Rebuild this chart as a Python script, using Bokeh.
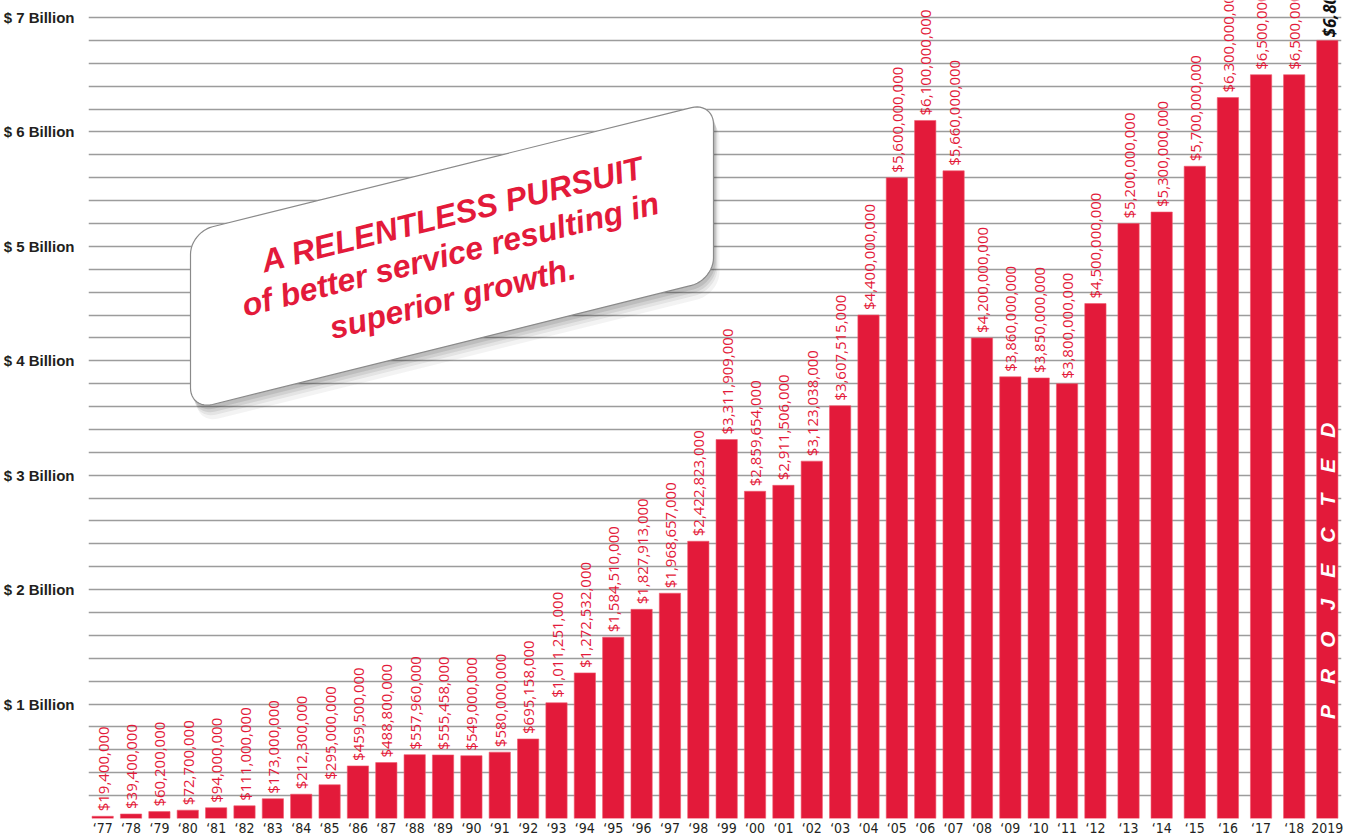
import math
from bokeh.plotting import figure
from bokeh.models import ColumnDataSource, FixedTicker, Label, FactorRange
from bokeh.core.properties import value
from bokeh.embed import file_html
from bokeh.resources import INLINE

# ---------------- data ----------------
years = ["‘77", "‘78", "‘79", "‘80", "‘81", "‘82", "‘83", "‘84", "‘85", "‘86",
         "‘87", "‘88", "‘89", "‘90", "‘91", "‘92", "‘93", "‘94", "‘95", "‘96",
         "‘97", "‘98", "‘99", "‘00", "‘01", "‘02", "‘03", "‘04", "‘05", "‘06",
         "‘07", "‘08", "‘09", "‘10", "‘11", "‘12", "‘13", "‘14", "‘15", "‘16",
         "‘17", "‘18", "2019"]
revenue = [19400000, 39400000, 60200000, 72700000, 94000000, 111000000,
           173000000, 212300000, 295000000, 459500000, 488800000, 557960000,
           555458000, 549000000, 580000000, 695158000, 1011251000, 1272532000,
           1584510000, 1827913000, 1968657000, 2422823000, 3311909000,
           2859654000, 2911506000, 3123038000, 3607515000, 4400000000,
           5600000000, 6100000000, 5660000000, 4200000000, 3860000000,
           3850000000, 3800000000, 4500000000, 5200000000, 5300000000,
           5700000000, 6300000000, 6500000000, 6500000000, 6800000000]
projected = [False] * 42 + [True]
y_tick_values = [1, 2, 3, 4, 5, 6, 7]
y_tick_labels = ["$ 1 Billion", "$ 2 Billion", "$ 3 Billion", "$ 4 Billion",
                 "$ 5 Billion", "$ 6 Billion", "$ 7 Billion"]
callout_lines = ["A RELENTLESS PURSUIT", "of better service resulting in", "superior growth."]
projected_word = "PROJECTED"

# ---------------- layout constants ----------------
W, H = 1351, 838
LEFT, RIGHT, BOTTOM = 88, 10, 19
FRAME_W = W - LEFT - RIGHT
FRAME_H = H - BOTTOM
N_TIGHT = 36          # bars drawn in the tightly packed block ('77 - '12)
GROUP_PAD = 0.168     # the later bars are spaced a little wider
SY = 114.57
YTOP = FRAME_H / SY

RED = "#e31a3a"

idx = list(range(len(years)))
groups = ["base" if i < N_TIGHT else "s%d" % i for i in idx]
factors = list(zip(groups, years))
vals_b = [v / 1e9 for v in revenue]
labels = ["$" + format(v, ",") for v in revenue]

x_range = FactorRange(factors=factors, factor_padding=0, group_padding=GROUP_PAD,
                      range_padding=0)
n_single = len(years) - N_TIGHT
SYN_LEN = N_TIGHT + n_single * (1 + GROUP_PAD)
SX = FRAME_W / SYN_LEN

hist_i = [i for i in idx if not projected[i]]
proj_i = [i for i in idx if projected[i]]
src = ColumnDataSource(dict(x=factors, top=vals_b))
src_lab = ColumnDataSource(dict(x=[factors[i] for i in hist_i],
                                y=[vals_b[i] for i in hist_i],
                                t=[labels[i] for i in hist_i]))
src_proj = ColumnDataSource(dict(x=[factors[i] for i in proj_i],
                                 y=[vals_b[i] for i in proj_i],
                                 t=[labels[i] for i in proj_i]))
src_word = ColumnDataSource(dict(x=[factors[i] for i in proj_i],
                                 t=["\u2003".join(projected_word)] * len(proj_i)))

p = figure(width=W, height=H, x_range=x_range, y_range=(0, YTOP),
           output_backend="svg", toolbar_location=None,
           min_border_left=LEFT, min_border_right=RIGHT, min_border_top=0,
           min_border_bottom=BOTTOM)
p.outline_line_color = None
p.background_fill_color = "white"
p.border_fill_color = "white"

# grid
p.xgrid.grid_line_color = None
p.ygrid.ticker = FixedTicker(ticks=[round(0.2 * k, 1) for k in range(1, 36)])
p.ygrid.grid_line_color = "#9c9c9c"
p.ygrid.grid_line_width = 1.6

# axes
p.yaxis.ticker = FixedTicker(ticks=y_tick_values)
p.yaxis.major_label_overrides = {t: l for t, l in zip(y_tick_values, y_tick_labels)}
p.yaxis.axis_line_color = None
p.yaxis.major_tick_line_color = None
p.yaxis.minor_tick_line_color = None
p.yaxis.major_label_standoff = 8
p.yaxis.major_label_text_font = "Liberation Sans"
p.yaxis.major_label_text_font_style = "bold"
p.yaxis.major_label_text_font_size = "15px"
p.yaxis.major_label_text_color = "#231f20"

p.xaxis.axis_line_color = None
p.xaxis.major_tick_line_color = None
p.xaxis.minor_tick_line_color = None
p.xaxis.major_tick_out = 0
p.xaxis.major_tick_in = 0
p.xaxis.major_label_standoff = 1
p.xaxis.major_label_orientation = "horizontal"
p.xaxis.major_label_text_font = "'Liberation Sans Narrow', 'DejaVu Sans Condensed', sans-serif"
p.xaxis.major_label_text_font_size = "14px"
p.xaxis.major_label_text_color = "#231f20"
p.xaxis.group_text_font_size = "0px"
p.xaxis.group_text_color = None
p.xaxis.separator_line_color = None

# bars
p.vbar(x="x", top="top", width=0.75, bottom=0, source=src,
       fill_color=RED, line_color="#f05a6e", line_width=0.6)

# value labels
p.text(x="x", y="y", text="t", source=src_lab, angle=math.pi / 2,
       text_align="left", text_baseline="middle", y_offset=-5,
       text_color=RED, text_font=value("Open Sans"), text_font_size="15px")
p.text(x="x", y="y", text="t", source=src_proj, angle=math.pi / 2,
       text_align="left", text_baseline="middle", y_offset=-3, x_offset=2,
       text_color="#111111", text_font=value("Open Sans"),
       text_font_style="bold italic", text_font_size="17px")


# ---------- helpers: reference-pixel -> data ----------
def dx(px):
    return (px - LEFT) / SX


def dy(py):
    return (FRAME_H - py) / SY


# PROJECTED word inside the projected bar
p.text(x="x", y=dy(571), text="t", source=src_word, angle=math.pi / 2,
       text_align="center", text_baseline="middle", text_color="white",
       text_font=value("Liberation Sans"), text_font_style="bold italic",
       text_font_size="21px")

# ---------- callout box (skewed rounded parallelogram) ----------
BX0, BX1 = 190, 713
BTOP = 232
BH = 178
SLOPE = -0.249
R = 22


def rounded_box(ox=0, oy=0):
    pts = []
    corners = [(BX1 - R, BTOP + R, -90, 0), (BX1 - R, BTOP + BH - R, 0, 90),
               (BX0 + R, BTOP + BH - R, 90, 180), (BX0 + R, BTOP + R, 180, 270)]
    for cu, cv, a0, a1 in corners:
        for k in range(13):
            a = math.radians(a0 + (a1 - a0) * k / 12)
            u = cu + R * math.cos(a)
            v = cv + R * math.sin(a)
            y = v + SLOPE * (u - BX0)
            pts.append((u + ox, y + oy))
    return [dx(a) for a, b in pts], [dy(b) for a, b in pts]


for (ox, oy, al) in [(6, 14, 0.06), (4, 10, 0.08), (3, 7, 0.10), (2, 4, 0.12)]:
    xs, ys = rounded_box(ox, oy)
    p.patch(xs, ys, fill_color="#333333", fill_alpha=al, line_color=None)
xs, ys = rounded_box()
p.patch(xs, ys, fill_color="white", line_color="#8a8a8a", line_width=1.2)

ang = math.atan(-SLOPE)
centers = [(452, 214), (450, 254), (452, 298)]
for (cx, cy), t in zip(centers, callout_lines):
    p.add_layout(Label(x=dx(cx), y=dy(cy), text=t, angle=ang,
                       text_align="center", text_baseline="middle",
                       text_color=RED, text_font="Liberation Sans",
                       text_font_style="bold italic", text_font_size="32px"))

open("out.html", "w").write(file_html(p, INLINE))
